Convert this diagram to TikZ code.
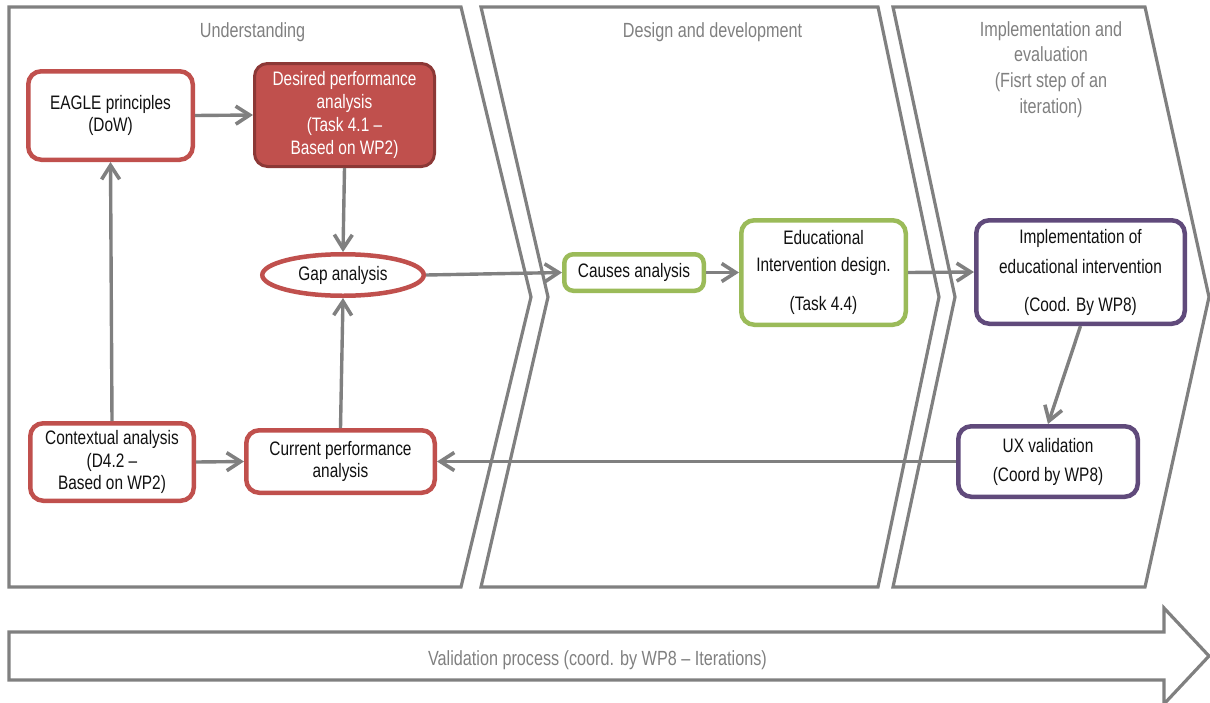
\documentclass[tikz,border=0pt]{standalone}
\usepackage{fontspec}
\setmainfont{Liberation Sans}[FakeStretch=0.79]
\usetikzlibrary{shapes.geometric,arrows.meta}
\definecolor{accred}{HTML}{C0504D}
\definecolor{darkred}{HTML}{8C3836}
\definecolor{accgreen}{HTML}{9BBB59}
\definecolor{accpurple}{HTML}{604A7B}
\definecolor{linegray}{HTML}{808080}
\definecolor{inkblack}{HTML}{111111}

\begin{document}
\begin{tikzpicture}[x=1pt,y=-1pt,
  panel/.style={draw=linegray, line width=3.2pt, line join=miter},
  heading/.style={text=linegray, font=\fontsize{20.5}{25.7}\selectfont, align=center, inner sep=0pt},
  card/.style={rounded corners=13pt, line width=4.5pt, fill=white, align=center,
    inner sep=0pt, text=inkblack, font=\fontsize{19.5}{21.5}\selectfont},
  redcard/.style={card, draw=accred},
  greencard/.style={card, draw=accgreen},
  purplecard/.style={card, draw=accpurple},
  flow/.style={draw=linegray, line width=3.4pt,
    -{Straight Barb[length=14pt,width=18pt,line width=3.6pt]}},
]
\useasboundingbox (0,0) rectangle (1210,702);

% phase chevrons
\draw[panel] (9,7) -- (461,7) -- (531,297) -- (461,587) -- (9,587) -- cycle;
\draw[panel] (481,7) -- (878,7) -- (939,297) -- (878,587) -- (481,587) -- (548,297) -- cycle;
\draw[panel] (893,7) -- (1145,7) -- (1209,297) -- (1145,587) -- (893,587) -- (955,297) -- cycle;

% validation process arrow
\draw[panel] (9,632) -- (1164,632) -- (1164,608) -- (1209,656) -- (1164,704)
  -- (1164,680) -- (9,680) -- cycle;
\node[heading, anchor=base] (valtext) at (597.5,665)
  {Validation process (coord. by WP8 \textendash{} Iterations)};

% phase headings
\node[heading, anchor=base] (h1) at (252.5,37) {Understanding};
\node[heading, anchor=base] (h2) at (712.5,37) {Design and development};
\node[heading] (h3) at (1051,69.5)
  {Implementation and\\evaluation\\(Fisrt step of an\\iteration)};

% understanding phase
\node[redcard, minimum width=164.5pt, minimum height=88.5pt] (eagle) at (110.5,115.5)
  {EAGLE principles\\(DoW)};
\node[card, draw=darkred, fill=accred, line width=3pt, text=white,
  font=\fontsize{19.5}{23}\selectfont,
  minimum width=180pt, minimum height=103pt] (desired) at (344.5,115)
  {Desired performance\\analysis\\(Task 4.1 \textendash\\Based on WP2)};
\node[ellipse, draw=accred, line width=4.5pt, fill=white, inner sep=0pt, text=inkblack,
  font=\fontsize{19.5}{21.5}\selectfont,
  minimum width=161.5pt, minimum height=41.5pt] (gap) at (343,275) {Gap analysis};
\node[redcard, font=\fontsize{19.5}{22.5}\selectfont,
  minimum width=163.5pt, minimum height=77.5pt] (context) at (112,462)
  {Contextual analysis\\(D4.2 \textendash\\Based on WP2)};
\node[redcard, font=\fontsize{19.5}{22}\selectfont,
  minimum width=188.5pt, minimum height=62.5pt] (current) at (340.5,461.5)
  {Current performance\\analysis};

% design and development phase
\node[greencard, rounded corners=9pt, minimum width=139.5pt, minimum height=36.5pt]
  (causes) at (634,272.5) {Causes analysis};
\node[greencard, minimum width=164.5pt, minimum height=104.5pt] (design) at (823.5,272.5)
  {Educational\\[5.5pt]Intervention design.\\[17pt](Task 4.4)};

% implementation and evaluation phase
\node[purplecard, minimum width=208.5pt, minimum height=103.5pt] (impl) at (1080.5,272)
  {Implementation of\\[8.5pt]educational intervention\\[16.5pt](Cood. By WP8)};
\node[purplecard, minimum width=179.5pt, minimum height=70.5pt] (ux) at (1048,461.5)
  {UX validation\\[7.5pt](Coord by WP8)};

% connectors
\draw[flow] (eagle.east) -- (desired.west);
\draw[flow] (desired.south) -- (gap.north);
\draw[flow] (context.north) -- (eagle.south);
\draw[flow] (context.east) -- (current.west);
\draw[flow] (current.north) -- (gap.south);
\draw[flow] (gap.east) -- (causes.west);
\draw[flow] (causes.east) -- (design.west);
\draw[flow] (design.east) -- (impl.west);
\draw[flow] (impl.south) -- (ux.north);
\draw[flow] (ux.west) -- (current.east);
\end{tikzpicture}
\end{document}
